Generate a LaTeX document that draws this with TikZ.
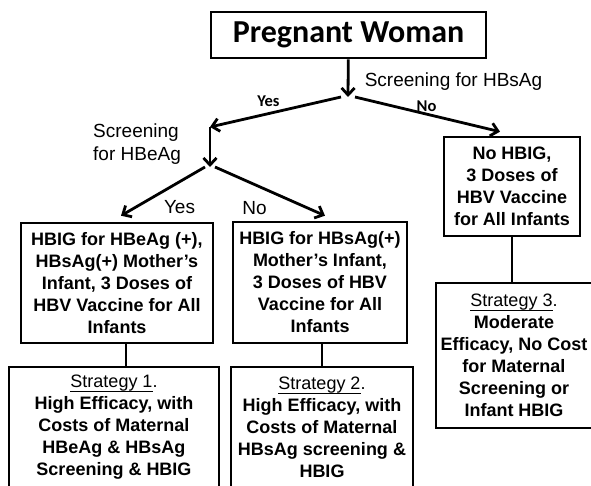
\documentclass[tikz,border=0pt]{standalone}
\usepackage{fontspec}
\setmainfont{Liberation Sans}
\newfontfamily\calibri{Carlito}
\usetikzlibrary{arrows.meta}

% thin underline just under the descenders
\newcommand{\understrek}[1]{\setbox0\hbox{#1}\rlap{\rule[-4.5pt]{\wd0}{0.8pt}}\box0}

\begin{document}
\begin{tikzpicture}[
  x=1pt, y=-1pt,
  every node/.style={inner sep=0pt, align=center}
]
\tikzstyle{boks}=[draw=black, line width=2.6pt, font=\bfseries\fontsize{18}{22}\selectfont]
\tikzstyle{pil}=[line width=2.8pt, -{Straight Barb[length=7pt,width=13pt]}]
\tikzstyle{streg}=[line width=2.6pt]
\tikzstyle{etiket}=[font=\fontsize{19}{23}\selectfont]
\tikzstyle{lille}=[font=\calibri\bfseries\fontsize{16.5}{18}\selectfont]

\clip (0,0) rectangle (591,485);

% boxes
\node[boks, minimum width=275pt, minimum height=46pt,
  font=\calibri\bfseries\fontsize{32}{36}\selectfont] (woman) at (348.5,35) {Pregnant Woman};
\node[boks, minimum width=136pt, minimum height=99pt] (noscreen) at (512,186.5)
  {No HBIG,\\3 Doses of\\HBV Vaccine\\for All Infants};
\node[boks, minimum width=192pt, minimum height=120pt] (hbeag) at (117,283)
  {HBIG for HBeAg (+),\\HBsAg(+) Mother’s\\Infant, 3 Doses of\\HBV Vaccine for All\\Infants};
\node[boks, minimum width=174pt, minimum height=121pt] (hbsag) at (320,282.5)
  {HBIG for HBsAg(+)\\Mother’s Infant,\\3 Doses of HBV\\Vaccine for All\\Infants};
\node[boks, minimum width=210pt, minimum height=120pt] (strat1) at (114,427)
  {{\mdseries\understrek{Strategy 1}.}\\High Efficacy, with\\Costs of Maternal\\HBeAg \& HBsAg\\Screening \& HBIG};
\node[boks, minimum width=182pt, minimum height=120pt] (strat2) at (322,427)
  {{\mdseries\understrek{Strategy 2}.}\\High Efficacy, with\\Costs of Maternal\\HBsAg screening \&\\HBIG};
\node[boks, minimum width=156pt, minimum height=145pt] (strat3) at (514,355.5)
  {{\mdseries\understrek{Strategy 3}.}\\Moderate\\Efficacy, No Cost\\for Maternal\\Screening or\\Infant HBIG};

% forks
\coordinate (fork1) at (348,97);
\coordinate (fork2) at (210,127);
\coordinate (fork3) at (210,167);

\draw[pil] (woman) -- (fork1);
\draw[pil] ([xshift=-7pt]fork1) -- (fork2);
\draw[pil] ([xshift=7pt]fork1) -- ([shift={(-12,-4)}]noscreen.north);
\draw[pil] (fork2) -- (fork3);
\draw[pil] ([xshift=-5pt]fork3) -- ([shift={(4,-6)}]hbeag.north);
\draw[pil] ([xshift=5pt]fork3) -- ([shift={(5,-5)}]hbsag.north);

\draw[streg] ([xshift=9pt]hbeag.south) -- ([xshift=12pt]strat1.north);
\draw[streg] ([xshift=2pt]hbsag.south) -- (strat2.north);
\draw[streg] (noscreen.south) -- (noscreen.south |- strat3.north);

% labels
\node[etiket, anchor=base] (hbsagq) at (453.5,86) {Screening for HBsAg};
\node[lille, anchor=base] (yes1) at (268.5,106) {Yes};
\node[lille, anchor=base] (no1) at (426.5,111) {No};
\node[etiket, anchor=north west, align=left] (hbeagq) at (93,124) {Screening\\for HBeAg};
\node[etiket, anchor=base] (yes2) at (179.5,213) {Yes};
\node[etiket, anchor=base] (no2) at (254.5,214) {No};
\end{tikzpicture}
\end{document}
